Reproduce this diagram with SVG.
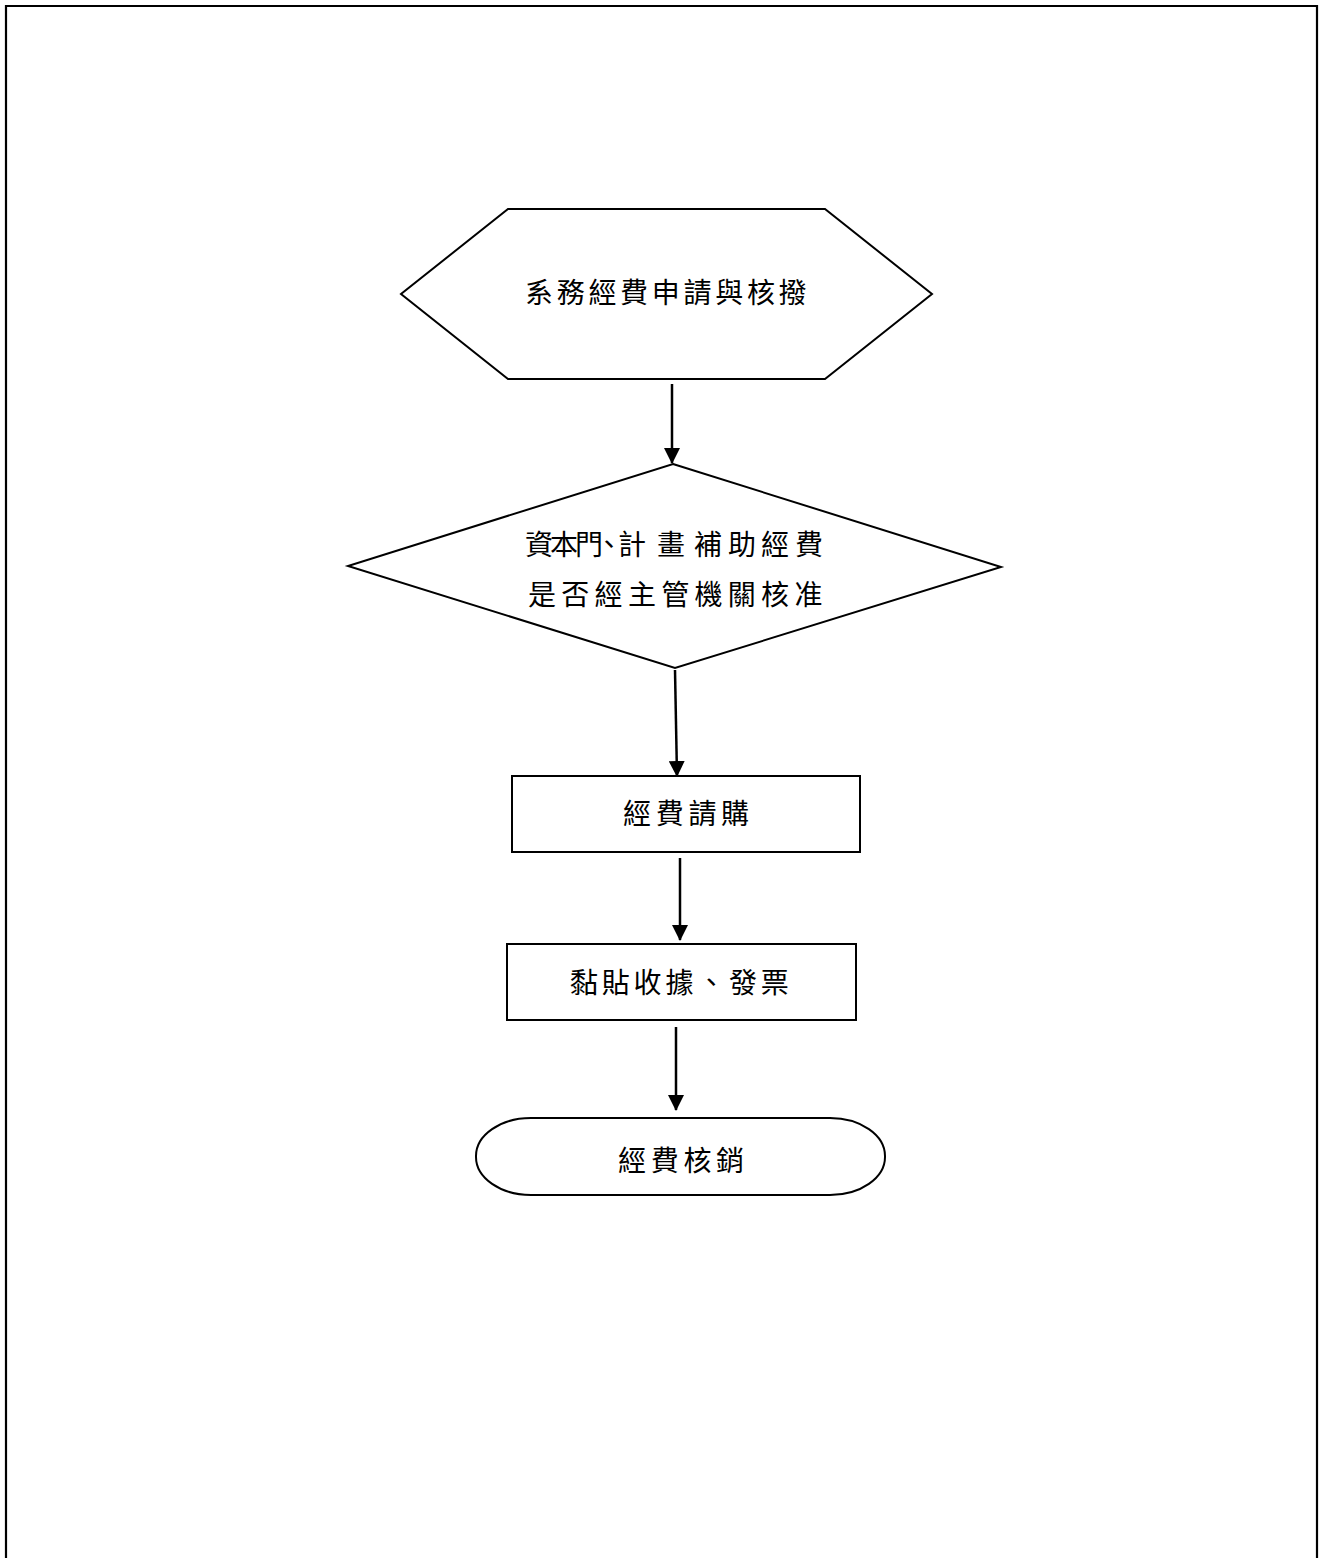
<svg xmlns="http://www.w3.org/2000/svg" width="1319" height="1558" viewBox="0 0 1319 1558">
<style>
.shape{fill:#fff;stroke:#000;stroke-width:2}
.conn{stroke:#000;stroke-width:2.5;fill:none}
.t{font-family:"Noto Sans CJK TC","Noto Sans CJK SC",sans-serif;font-size:28px;fill:#000}
</style>
<defs>
<marker id="arr" markerUnits="userSpaceOnUse" markerWidth="16" markerHeight="16" viewBox="0 0 16 16" refX="15" refY="8" orient="auto">
<path d="M0,0 L16,8 L0,16 Z" fill="#000"/>
</marker>
</defs>
<rect width="1319" height="1558" fill="#fff"/>
<path d="M6,1558 V6 H1317 V1558" fill="none" stroke="#000" stroke-width="2.2"/>
<g id="connectors">
<line class="conn" x1="672" y1="384" x2="672" y2="463" marker-end="url(#arr)"/>
<line class="conn" x1="675" y1="670" x2="677" y2="776" marker-end="url(#arr)"/>
<line class="conn" x1="680" y1="858" x2="680" y2="940" marker-end="url(#arr)"/>
<line class="conn" x1="676" y1="1027" x2="676" y2="1110" marker-end="url(#arr)"/>
</g>
<g id="n1">
<polygon class="shape" points="508,209 825,209 932,294 825,379 508,379 401,294"/>
<text class="t" x="525" y="303" letter-spacing="3.7">系務經費申請與核撥</text>
</g>
<g id="n2">
<polygon class="shape" points="673,464 1001,567 675,668 348,566"/>
<text class="t" x="525 550 575 595 618 657 694 728 761 795" y="555">資本門、計畫補助經費</text>
<text class="t" x="528" y="605" letter-spacing="5.3">是否經主管機關核准</text>
</g>
<g id="n3">
<rect class="shape" x="512" y="776" width="348" height="76"/>
<text class="t" x="623" y="824" letter-spacing="4.7">經費請購</text>
</g>
<g id="n4">
<rect class="shape" x="507" y="944" width="349" height="76"/>
<text class="t" x="570" y="993" letter-spacing="3.8">黏貼收據、發票</text>
</g>
<g id="n5">
<rect class="shape" x="476" y="1118" width="409" height="77" rx="55" ry="38"/>
<text class="t" x="618" y="1171" letter-spacing="4.7">經費核銷</text>
</g>
</svg>
